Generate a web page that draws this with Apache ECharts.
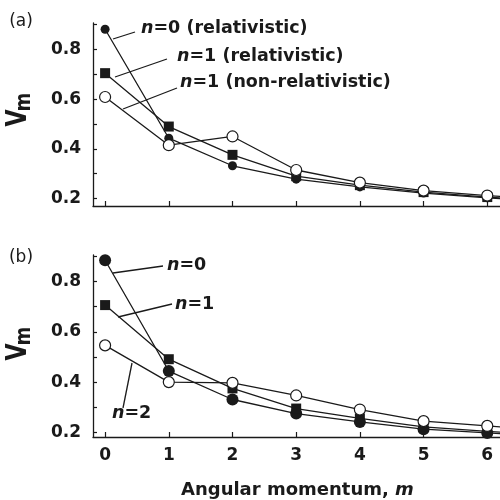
<!DOCTYPE html>
<html>
<head>
<meta charset="utf-8">
<script src="https://cdn.jsdelivr.net/npm/echarts@6/dist/echarts.min.js"></script>
<style>
  html, body { margin: 0; padding: 0; background: #fff; }
  #chart { width: 500px; height: 500px; }
</style>
</head>
<body>
<div id="chart"></div>
<script>
// Angular momentum values m
const mValues = [0, 1, 2, 3, 4, 5, 6, 7];

// Panel (a): relativistic vs non-relativistic
const aN0Rel = [0.882, 0.443, 0.332, 0.278, 0.247, 0.222, 0.203, 0.187];
const aN1Rel = [0.705, 0.490, 0.376, 0.290, 0.254, 0.226, 0.206, 0.190];
const aN1NonRel = [0.609, 0.415, 0.450, 0.315, 0.264, 0.232, 0.212, 0.196];

// Panel (b): n = 0, 1, 2
const bN0 = [0.884, 0.444, 0.331, 0.275, 0.242, 0.213, 0.198, 0.185];
const bN1 = [0.706, 0.491, 0.375, 0.295, 0.256, 0.222, 0.204, 0.191];
const bN2 = [0.546, 0.400, 0.397, 0.347, 0.291, 0.245, 0.226, 0.207];

// Axis ticks
const yTickValues = [0.2, 0.3, 0.4, 0.5, 0.6, 0.7, 0.8, 0.9];
const yLabelValues = [0.2, 0.4, 0.6, 0.8];
const xTickValues = [0, 1, 2, 3, 4, 5, 6];
const xLabelValues = [0, 1, 2, 3, 4, 5, 6];

const pairs = (ys) => mValues.map((m, i) => [m, ys[i]]);

const BOLD = 'bold 17.5px "DejaVu Sans"';
const INK = '#1a1a1a';

function xAxis(gridIndex, showLabels) {
  return {
    type: 'value', gridIndex, min: -0.19, max: 6.2,
    axisLine: { show: true, onZero: false, lineStyle: { color: INK, width: 1.3 } },
    axisTick: { show: true, inside: true, length: 5, customValues: xTickValues,
                lineStyle: { color: INK, width: 1.2 } },
    axisLabel: { show: showLabels, customValues: xLabelValues, margin: 10,
                 color: INK, fontFamily: 'DejaVu Sans', fontWeight: 'bold', fontSize: 17 },
    splitLine: { show: false }
  };
}
function yAxis(gridIndex, min, max) {
  return {
    type: 'value', gridIndex, min, max,
    axisLine: { show: true, onZero: false, lineStyle: { color: INK, width: 1.3 } },
    axisTick: { show: true, inside: true, length: 4, customValues: yTickValues,
                lineStyle: { color: INK, width: 1.2 } },
    axisLabel: { show: true, customValues: yLabelValues, margin: 12,
                 formatter: (v) => v.toFixed(1),
                 color: INK, fontFamily: 'DejaVu Sans', fontWeight: 'bold', fontSize: 17 },
    splitLine: { show: false }
  };
}
function series(name, xi, ys, symbol, size, fill) {
  return {
    name, type: 'line', xAxisIndex: xi, yAxisIndex: xi, data: pairs(ys),
    symbol, symbolSize: size, showAllSymbol: true, clip: true,
    lineStyle: { color: INK, width: 1.3 },
    itemStyle: { color: fill, borderColor: INK, borderWidth: fill === '#fff' ? 1.2 : 0 },
    emphasis: { disabled: true }, animation: false, z: fill === '#fff' ? 4 : 3
  };
}

const richLabel = {
  i: { font: 'italic bold 17.5px "DejaVu Sans"', fill: INK },
  t: { font: BOLD, fill: INK }
};
const richTitle = {
  i: { font: 'italic bold 18px "DejaVu Sans"', fill: INK },
  t: { font: 'bold 18px "DejaVu Sans"', fill: INK }
};
function label(x, y, text) {
  return { type: 'text', x, y, z: 20,
    style: { text, textAlign: 'left', textVerticalAlign: 'middle', rich: richLabel, font: BOLD, fill: INK } };
}
function leader(x1, y1, x2, y2) {
  return { type: 'line', z: 20, shape: { x1, y1, x2, y2 }, style: { stroke: INK, lineWidth: 1.3 } };
}
function plain(x, y, text, font, extra) {
  return Object.assign({ type: 'text', x, y, z: 20,
    style: { text, font, fill: INK, textAlign: 'center', textVerticalAlign: 'middle' } }, extra || {});
}
function yTitle(cx, cyV, cyM) {
  return [
    plain(cx, cyV, 'V', 'bold 22px "DejaVu Sans"', { rotation: Math.PI / 2, scaleY: 1.3 }),
    plain(cx + 6, cyM, 'm', 'bold 18px "DejaVu Sans"', { rotation: Math.PI / 2, scaleY: 1.15 })
  ];
}

const chart = echarts.init(document.getElementById('chart'), null, { renderer: 'canvas' });
chart.setOption({
  backgroundColor: '#fff',
  animation: false,
  grid: [
    { left: 93, top: 23, width: 407, height: 183 },
    { left: 93, top: 255, width: 407, height: 182 }
  ],
  xAxis: [xAxis(0, false), xAxis(1, true)],
  yAxis: [yAxis(0, 0.17, 0.907), yAxis(1, 0.182, 0.905)],
  series: [
    series('n=0 (relativistic)', 0, aN0Rel, 'circle', 9, INK),
    series('n=1 (relativistic)', 0, aN1Rel, 'rect', 10, INK),
    series('n=1 (non-relativistic)', 0, aN1NonRel, 'circle', 11, '#fff'),
    series('n=0', 1, bN0, 'circle', 12, INK),
    series('n=1', 1, bN1, 'rect', 10, INK),
    series('n=2', 1, bN2, 'circle', 11, '#fff')
  ],
  graphic: [
    plain(21, 22, '(a)', '17px "DejaVu Sans"'),
    plain(21, 258, '(b)', '17px "DejaVu Sans"'),
    ...yTitle(19, 118, 102),
    ...yTitle(19, 352, 336),
    leader(113, 39, 135, 32), label(141, 28, '{i|n}{t|=0 (relativistic)}'),
    leader(115, 77, 167, 59), label(177, 56, '{i|n}{t|=1 (relativistic)}'),
    leader(123, 109, 177, 88), label(180, 82, '{i|n}{t|=1 (non-relativistic)}'),
    leader(113, 273, 163, 266), label(167, 265, '{i|n}{t|=0}'),
    leader(118, 317, 172, 304), label(175, 304, '{i|n}{t|=1}'),
    leader(132, 363, 123, 408), label(112, 413, '{i|n}{t|=2}'),
    { type: 'text', x: 181, y: 490, z: 20,
      style: { text: '{t|Angular momentum, }{i|m}', textAlign: 'left', textVerticalAlign: 'middle',
               rich: richTitle, font: 'bold 18px "DejaVu Sans"', fill: INK } }
  ]
});
</script>
</body>
</html>
